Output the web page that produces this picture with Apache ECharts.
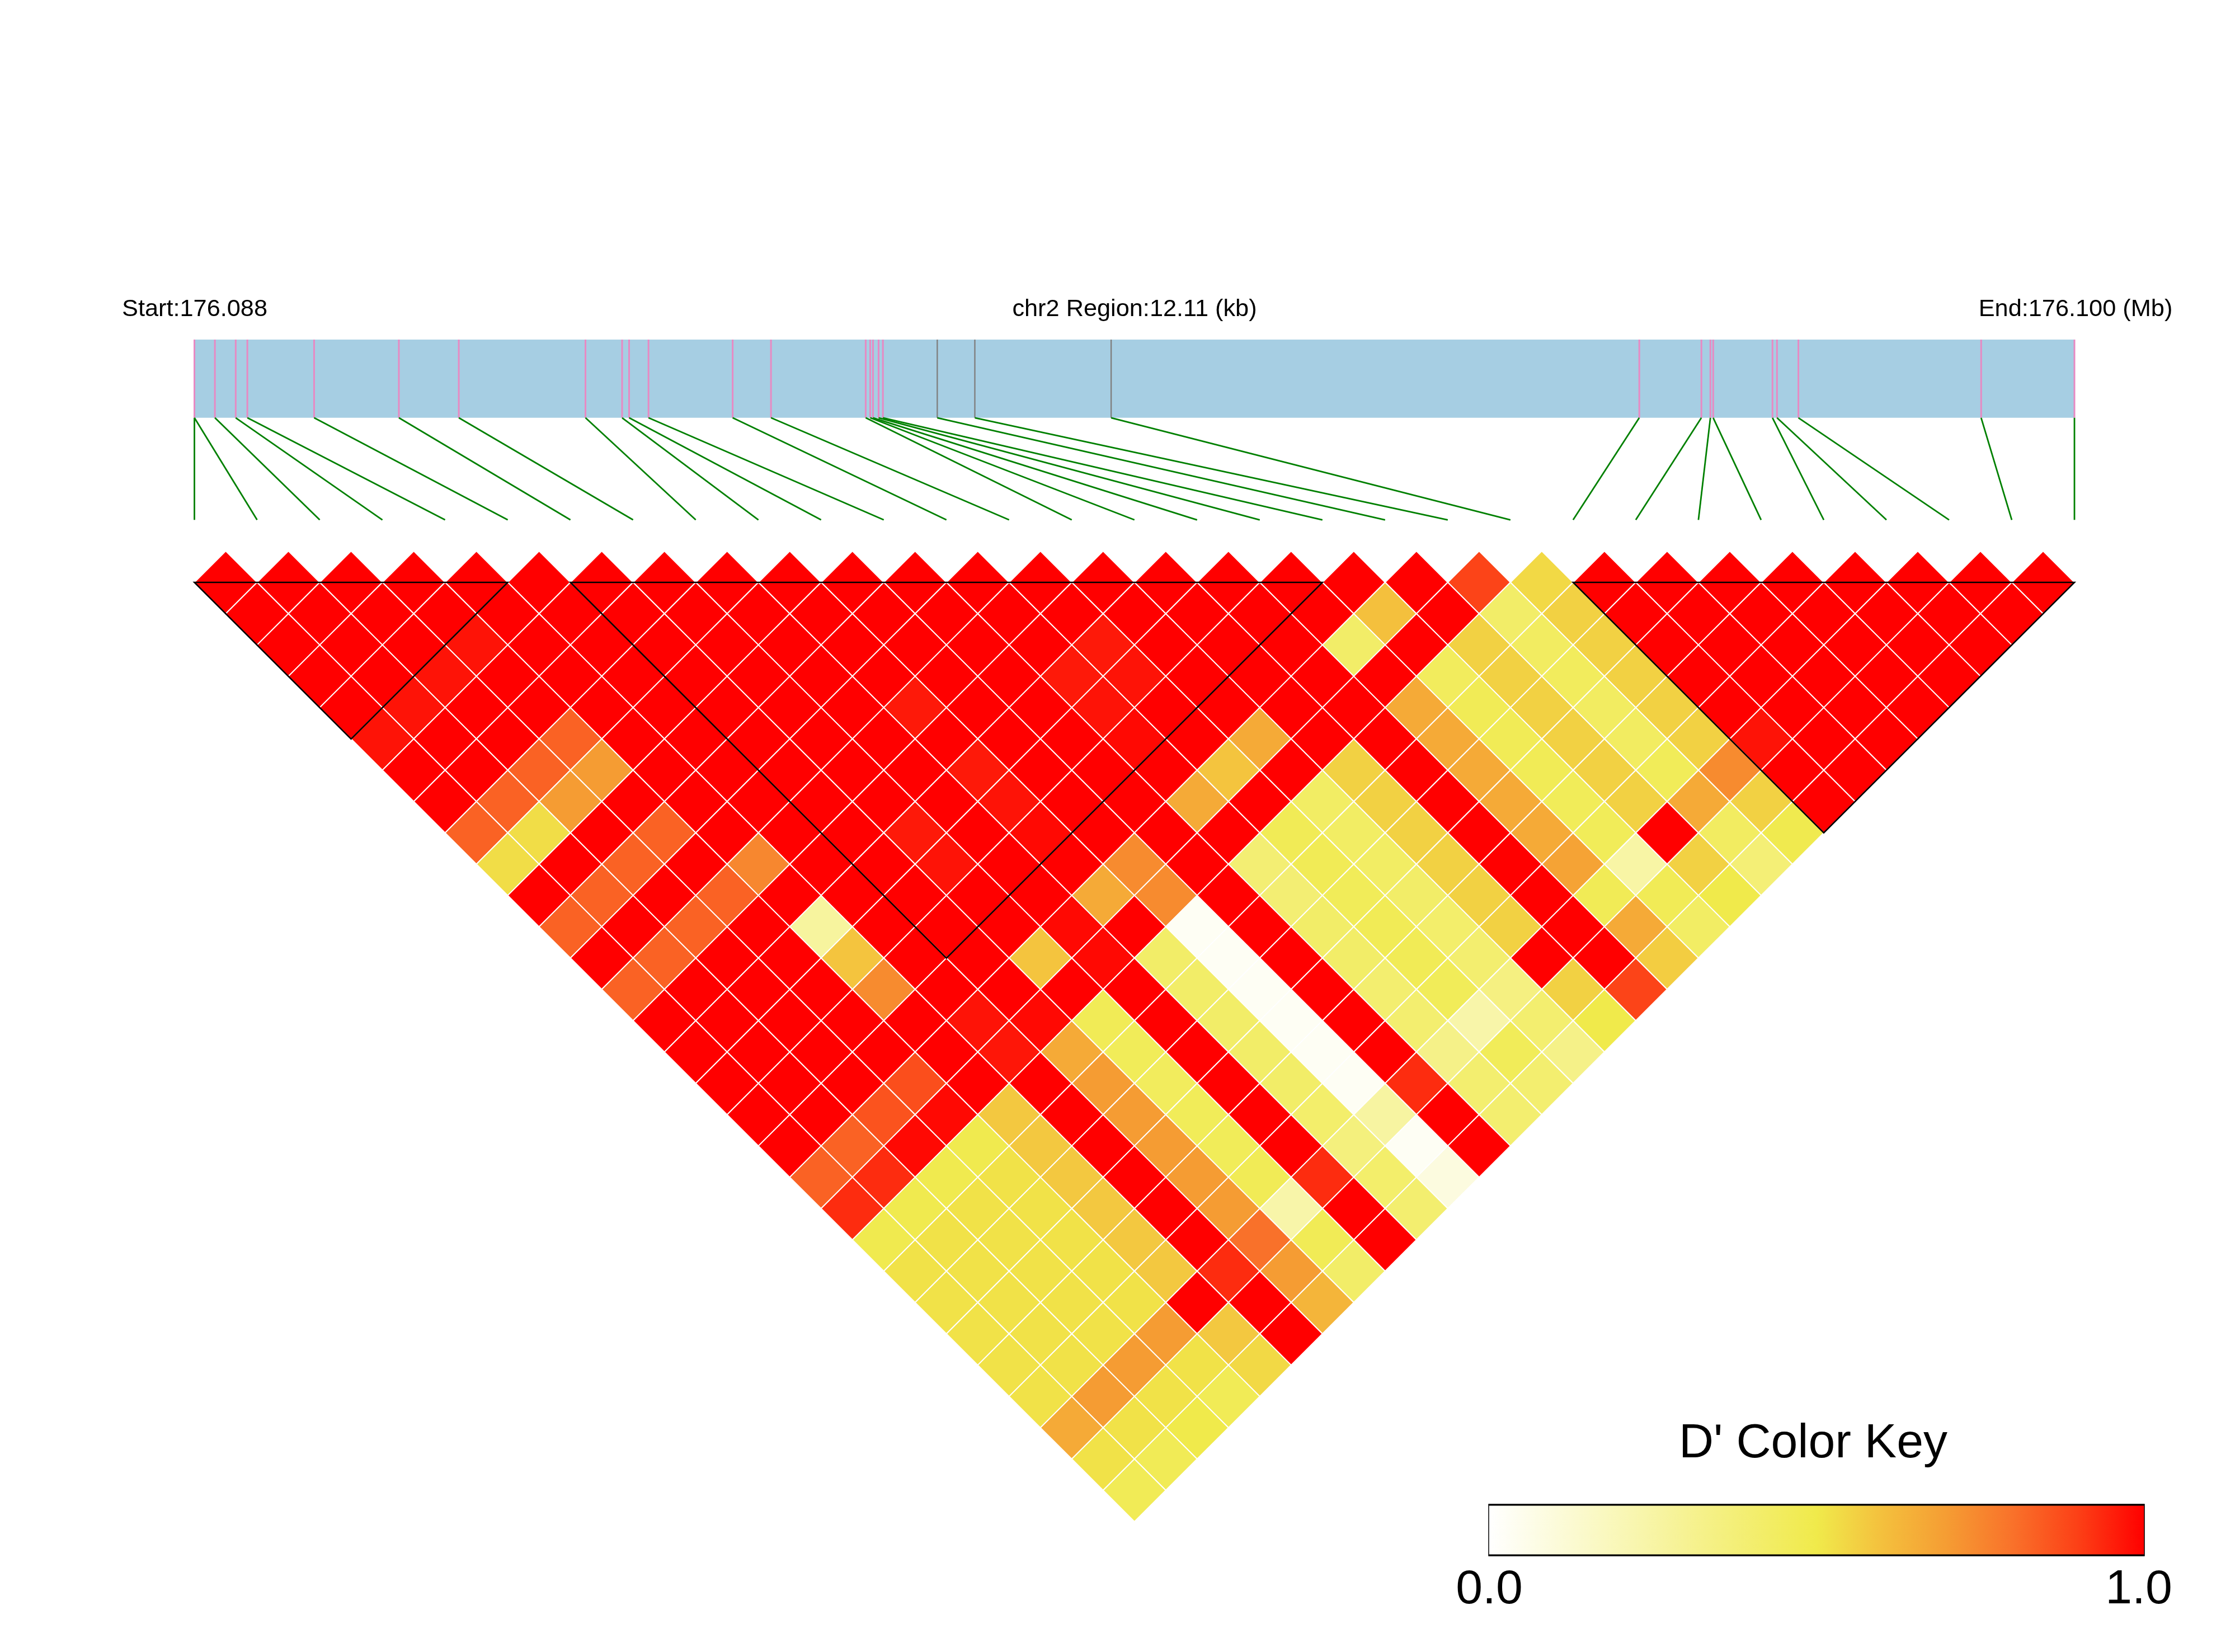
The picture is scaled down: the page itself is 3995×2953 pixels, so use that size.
<!DOCTYPE html>
<html><head><meta charset="utf-8">
<style>html,body{margin:0;padding:0;background:#fff}#c{width:3995px;height:2953px}</style>
<script src="https://cdn.jsdelivr.net/npm/echarts@6/dist/echarts.min.js"></script>
</head><body><div id="c"></div>
<script>
// Physical marker positions (kb from region start), one per SNP
const snpKb = [0,0,0.132,0.266,0.341,0.771,1.317,1.703,2.519,2.755,2.800,2.925,3.467,3.714,4.324,4.353,4.371,4.407,4.435,4.785,5.027,5.905,9.307,9.707,9.765,9.783,10.165,10.194,10.332,11.509,12.11];
const greyMarkers = [19,20,21];
const regionKb = 12.11;
const blocks = [[0,5],[6,18],[22,30]];
const texts = {start:"Start:176.088", mid:"chr2 Region:12.11 (kb)", end:"End:176.100 (Mb)", key:"D' Color Key", lo:"0.0", hi:"1.0"};
const keyColors = ['#FFFFFF','#FCFBDB','#F9F7B7','#F6F293','#F3EE6F','#F0EA4B','#F4C03D','#F59C33','#F9712A','#FC3F16','#FF0000'];
// D' values: lagN[k] is the pair (k, k+N)
const lag1 =[1,1,1,1,1,1,1,1,1,1,1,1,1,1,1,1,1,1,1,1,.89,.54,1,1,1,1,1,1,1,1];
const lag2 =[1,1,1,1,1,1,1,1,1,1,1,1,1,1,1,1,1,1,.60,1,.42,.56,1,1,1,1,1,1,1];
const lag3 =[1,1,1,.97,1,1,1,1,1,1,1,1,1,.96,1,1,1,.42,1,.56,.44,.56,1,1,1,1,1,1];
const lag4 =[1,1,.97,1,1,1,1,1,1,1,1,1,.96,.97,1,1,1,1,.45,.56,.45,.56,1,1,1,1,1];
const lag5 =[1,.97,1,1,1,1,1,1,1,.96,1,1,.97,1,1,1,1,.66,.47,.56,.44,.56,1,1,1,1];
const lag6 =[.97,1,1,.83,1,1,1,1,1,1,1,1,.985,1,.66,1,1,.66,.47,.56,.44,.56,.97,1,1];
const lag7 =[1,1,.83,.70,1,1,1,1,1,.96,1,1,1,.59,1,.56,1,.66,.47,.56,.46,.74,1,1];
const lag8 =[1,.83,.70,1,1,1,1,1,1,.97,1,1,.66,1,.43,.56,1,.66,.46,.56,.66,.56,1];
const lag9 =[.83,.53,1,.83,1,1,1,.96,1,.985,1,1,1,.47,.43,.56,1,.66,.46,1,.44,.49];
const lag10=[.53,1,.83,1,.75,1,1,.97,1,1,.74,1,.39,.47,.43,.56,1,.68,.25,.56,.38];
const lag11=[1,.83,1,.83,1,1,1,1,1,.66,.74,1,.39,.46,.42,.56,1,.47,.47,.50];
const lag12=[.83,1,.83,1,.27,1,1,1,.985,1,.03,1,.42,.47,.41,.56,1,.66,.43];
const lag13=[1,.83,1,1,.59,1,1,.59,.985,.42,.03,1,.42,.47,.40,1,1,.57];
const lag14=[.83,1,1,1,.74,1,1,1,1,.42,.03,1,.40,.46,.35,.56,.89];
const lag15=[1,1,1,1,1,.97,.985,.47,1,.42,.03,1,.40,.24,.40,.50];
const lag16=[1,1,1,1,1,.965,.66,.46,1,.42,.03,1,.33,.46,.33];
const lag17=[1,1,1,.87,1,1,.70,.45,1,.42,.03,.93,.40,.40];
const lag18=[1,1,.86,.985,.58,1,.70,.46,1,.41,.26,1,.40];
const lag19=[1,.83,.985,.49,.58,1,.70,.46,1,.36,.03,1];
const lag20=[.83,.93,.49,.52,.58,1,.70,.47,.93,.41,.09];
const lag21=[.93,.49,.52,.52,.58,1,.70,.24,1,.40];
const lag22=[.49,.52,.52,.52,.58,1,.80,.47,1];
const lag23=[.52,.52,.52,.52,.58,.93,.70,.42];
const lag24=[.52,.52,.52,.52,1,1,.63];
const lag25=[.52,.52,.52,.70,.58,1];
const lag26=[.52,.52,.70,.52,.54];
const lag27=[.52,.70,.52,.47];
const lag28=[.66,.52,.50];
const lag29=[.52,.47];
const lag30=[.47];
const lags=[lag1,lag2,lag3,lag4,lag5,lag6,lag7,lag8,lag9,lag10,lag11,lag12,lag13,lag14,lag15,lag16,lag17,lag18,lag19,lag20,lag21,lag22,lag23,lag24,lag25,lag26,lag27,lag28,lag29,lag30];

const cells=[];
lags.forEach((row,li)=>row.forEach((v,k)=>cells.push([k+(li+1)/2, li, v])));
const n=snpKb.length;

const chart=echarts.init(document.getElementById('c'),null,{renderer:'canvas',width:3995,height:2953});
const FONT='"Liberation Sans", Arial, sans-serif';
const txt=(s,x,base,size)=>({type:'text',silent:true,style:{text:s,x:x,y:base-size*0.76,font:size+'px '+FONT,fill:'#000',textAlign:'center'}});
const K={x:2661,y:2691,w:1172,h:88};
chart.setOption({
 animation:false,backgroundColor:'#fff',
 grid:[
  {left:347.5,top:985,width:3360.5,height:1735},
  {left:347.5,top:607,width:3360.5,height:322.3}
 ],
 xAxis:[
  {gridIndex:0,type:'value',min:0,max:30,show:false},
  {gridIndex:1,type:'value',min:0,max:regionKb,show:false}
 ],
 yAxis:[
  {gridIndex:0,type:'value',min:-1,max:30,inverse:true,show:false},
  {gridIndex:1,type:'value',min:0,max:1.766,show:false}
 ],
 visualMap:{show:false,seriesIndex:0,dimension:2,min:0,max:1,inRange:{color:keyColors}},
 series:[
  {type:'custom',name:"D'",xAxisIndex:0,yAxisIndex:0,data:cells,encode:{x:0,y:1},silent:true,
   renderItem:(p,api)=>{
    const x=api.value(0),y=api.value(1);
    const pts=[[x,y-1],[x+.5,y],[x,y+1],[x-.5,y]].map(q=>api.coord(q));
    return {type:'polygon',shape:{points:pts},style:{fill:api.visual('color'),stroke:'#fff',lineWidth:2}};
   }},
  {type:'custom',name:'blocks',xAxisIndex:0,yAxisIndex:0,data:blocks,silent:true,z:5,encode:{x:[0,1]},
   renderItem:(p,api)=>{
    const a=api.value(0),b=api.value(1);
    const pts=[[a,0],[b,0],[(a+b)/2,b-a]].map(q=>api.coord(q));
    return {type:'polygon',shape:{points:pts},style:{fill:'none',stroke:'#000',lineWidth:2.6}};
   }},
  {type:'custom',name:'region',xAxisIndex:1,yAxisIndex:1,data:[[0,regionKb]],silent:true,z:1,encode:{x:[0,1]},
   renderItem:(p,api)=>{
    const a=api.coord([api.value(0),1.766]),b=api.coord([api.value(1),1]);
    return {type:'rect',shape:{x:a[0],y:a[1],width:b[0]-a[0],height:b[1]-a[1]},style:{fill:'#A6CEE3'}};
   }},
  {type:'custom',name:'markers',xAxisIndex:1,yAxisIndex:1,data:snpKb.map((v,i)=>[v,i]),silent:true,z:2,encode:{x:0},
   renderItem:(p,api)=>{
    const kb=api.value(0),i=api.value(1);
    const top=api.coord([kb,1.766]),mid=api.coord([kb,1]);
    const end=api.coord([i/(n-1)*regionKb,0]);
    return {type:'group',children:[
     {type:'line',shape:{x1:top[0],y1:top[1],x2:mid[0],y2:mid[1]},style:{stroke:greyMarkers.includes(i)?'#808080':'#E78AC3',lineWidth:greyMarkers.includes(i)?2.4:3}},
     {type:'line',shape:{x1:mid[0],y1:mid[1],x2:end[0],y2:end[1]},style:{stroke:'#008000',lineWidth:2.8}}
    ]};
   }}
 ],
 graphic:[
  txt(texts.start,348,564,43.3),
  txt(texts.mid,2028,564,43.3),
  txt(texts.end,3710,564,43.3),
  txt(texts.key,3241,2604,86),
  txt(texts.lo,2662,2865,86),
  txt(texts.hi,3823,2865,86),
  {type:'rect',silent:true,shape:{x:K.x,y:K.y,width:K.w,height:K.h},
   style:{fill:new echarts.graphic.LinearGradient(0,0,1,0,keyColors.map((c,i)=>({offset:i/(keyColors.length-1),color:c})))}},
  {type:'rect',silent:true,shape:{x:K.x,y:K.y-2,width:K.w,height:K.h+4},style:{fill:'none',stroke:'#000',lineWidth:1.5}},
  {type:'line',silent:true,shape:{x1:K.x,y1:K.y-1,x2:K.x+K.w,y2:K.y-1},style:{stroke:'#000',lineWidth:3}},
  {type:'line',silent:true,shape:{x1:K.x,y1:K.y+K.h+1,x2:K.x+K.w,y2:K.y+K.h+1},style:{stroke:'#000',lineWidth:3}}
 ]
});
</script></body></html>
